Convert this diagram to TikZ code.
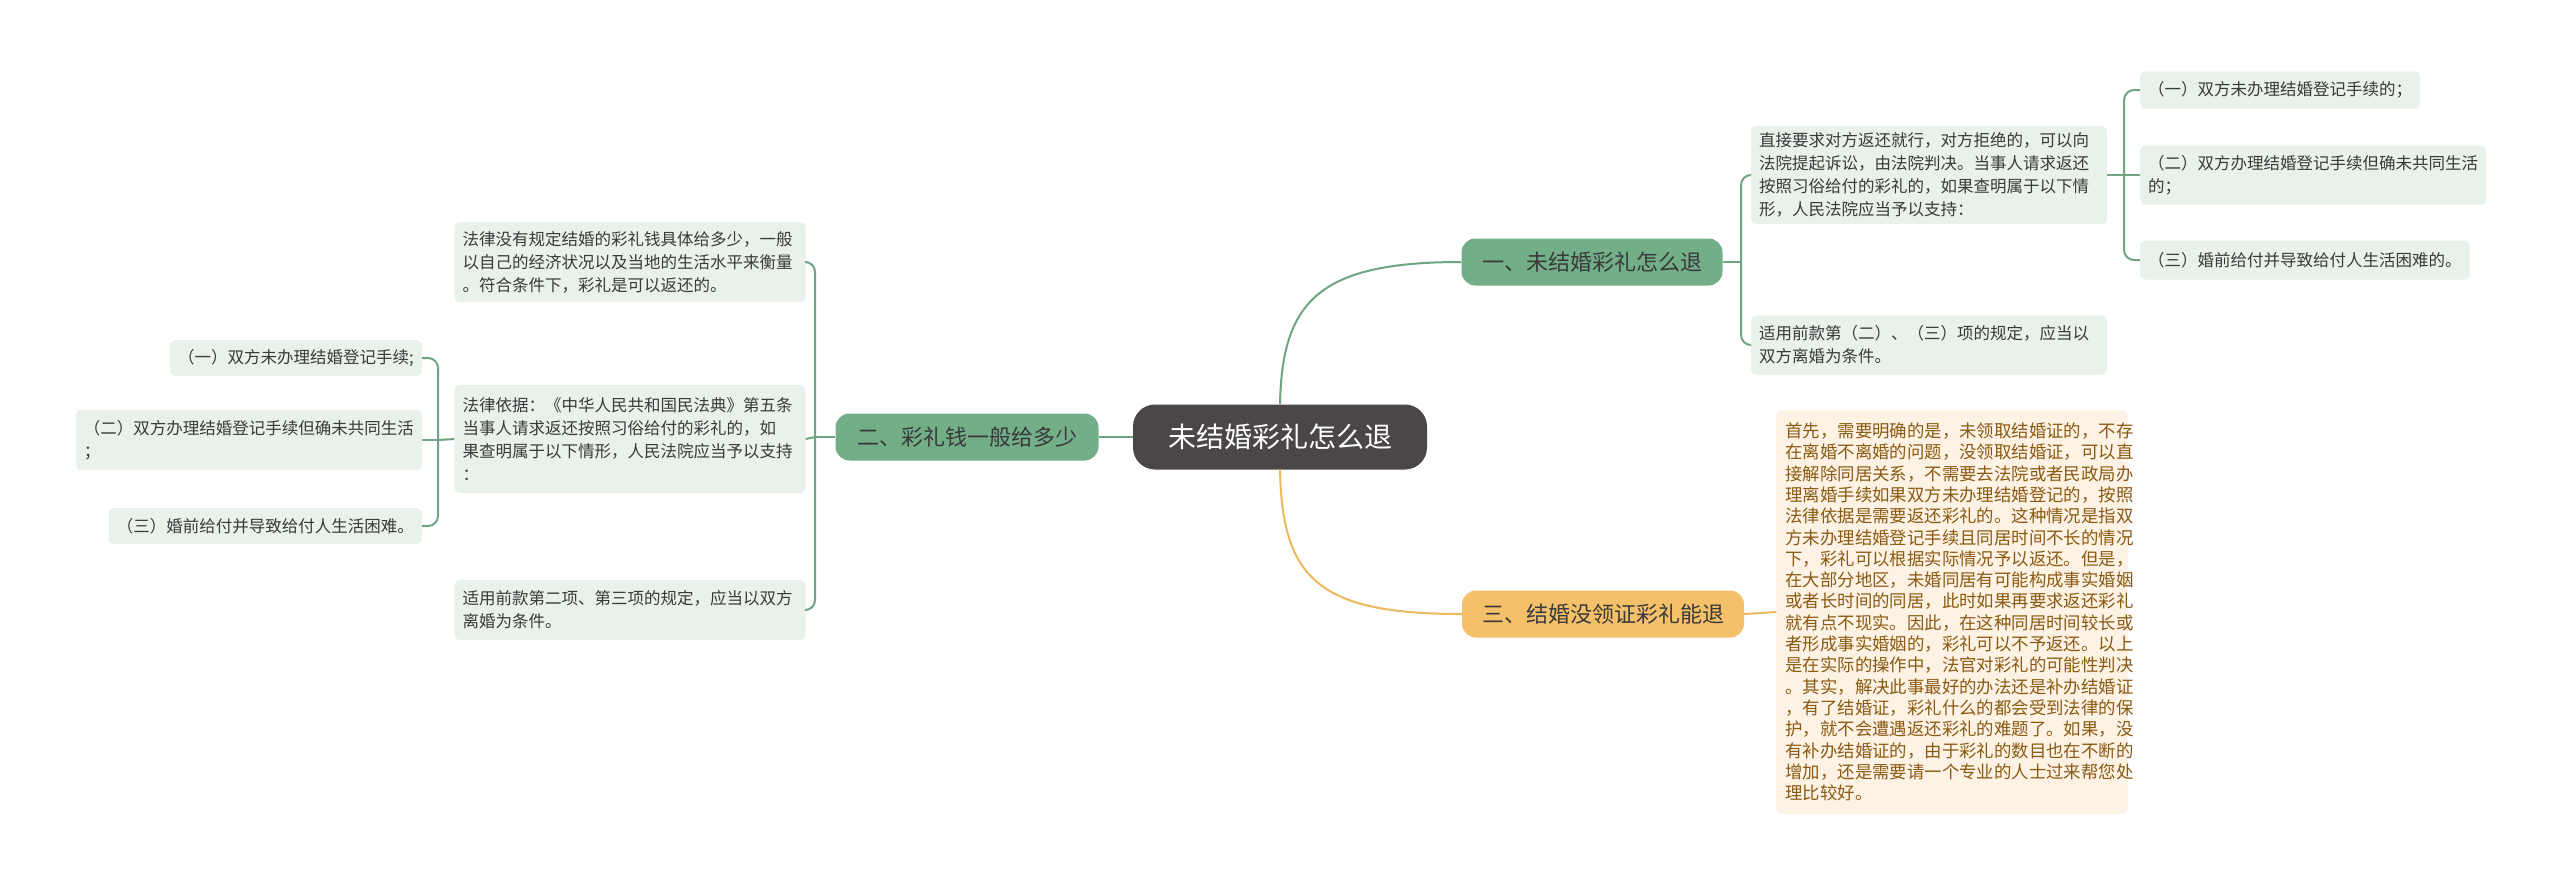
\documentclass[tikz,border=0pt]{standalone}
\usepackage{fontspec}
\setmainfont{Noto Sans CJK SC}
\definecolor{gline}{HTML}{6FA583}
\definecolor{gfill}{HTML}{72AE88}
\definecolor{dfill}{HTML}{E8F1EA}
\definecolor{tx}{HTML}{3A3A3A}
\definecolor{ofill}{HTML}{F5C06A}
\definecolor{oline}{HTML}{EDB95C}
\definecolor{obox}{HTML}{FDF2E4}
\definecolor{otx}{HTML}{8A5A12}
\definecolor{cfill}{HTML}{4B4747}
\begin{document}
\begin{tikzpicture}[x=1pt,y=-1pt,
  detail/.style={fill=dfill,rounded corners=5pt,inner xsep=8pt,inner ysep=0pt,align=left,text=tx,font=\fontsize{16.5}{23}\selectfont},
  branch/.style={fill=gfill,rounded corners=14pt,text=tx,font=\fontsize{22}{26}\selectfont,minimum height=47pt,inner xsep=10pt},
  gl/.style={draw=gline,line width=2pt,rounded corners=10pt},
  ol/.style={draw=oline,line width=2pt}]
\useasboundingbox (0,0) rectangle (2560,886);
\fill[white] (0,0) rectangle (2560,886);
% central
\node[fill=cfill,rounded corners=22pt,text=white,font=\fontsize{28}{32}\selectfont,minimum width=294pt,minimum height=65pt] (c) at (1280,437) {未结婚彩礼怎么退};
\node[branch,minimum width=261pt] (b1) at (1592,262) {一、未结婚彩礼怎么退};
\node[branch,minimum width=282pt,fill=ofill] (b3) at (1603,614) {三、结婚没领证彩礼能退};
\node[branch,minimum width=263pt] (b2) at (967,437) {二、彩礼钱一般给多少};
% right details
\node[detail,minimum width=356pt,minimum height=98pt,text width=340pt] (A) at (1929,175) {直接要求对方返还就行，对方拒绝的，可以向\\法院提起诉讼，由法院判决。当事人请求返还\\按照习俗给付的彩礼的，如果查明属于以下情\\形，人民法院应当予以支持：};
\node[detail,minimum width=356pt,minimum height=59pt,text width=340pt] (B) at (1929,345) {适用前款第（二）、（三）项的规定，应当以\\双方离婚为条件。};
\node[detail,anchor=west,minimum height=37pt] (R1) at (2140,90) {（一）双方未办理结婚登记手续的；};
\node[detail,anchor=west,minimum height=59pt] (R2) at (2140,175) {（二）双方办理结婚登记手续但确未共同生活\\的；};
\node[detail,anchor=west,minimum height=39pt] (R3) at (2140,260) {（三）婚前给付并导致给付人生活困难的。};
% orange box
\node[fill=obox,draw=obox!80!orange!40,rounded corners=5pt,text=otx,align=left,inner xsep=9pt,minimum width=351pt,minimum height=403pt,text width=333pt,font=\fontsize{17.4}{21.3}\selectfont] (O) at (1952,612) {首先，需要明确的是，未领取结婚证的，不存\\在离婚不离婚的问题，没领取结婚证，可以直\\接解除同居关系，不需要去法院或者民政局办\\理离婚手续如果双方未办理结婚登记的，按照\\法律依据是需要返还彩礼的。这种情况是指双\\方未办理结婚登记手续且同居时间不长的情况\\下，彩礼可以根据实际情况予以返还。但是，\\在大部分地区，未婚同居有可能构成事实婚姻\\或者长时间的同居，此时如果再要求返还彩礼\\就有点不现实。因此，在这种同居时间较长或\\者形成事实婚姻的，彩礼可以不予返还。以上\\是在实际的操作中，法官对彩礼的可能性判决\\。其实，解决此事最好的办法还是补办结婚证\\，有了结婚证，彩礼什么的都会受到法律的保\\护，就不会遭遇返还彩礼的难题了。如果，没\\有补办结婚证的，由于彩礼的数目也在不断的\\增加，还是需要请一个专业的人士过来帮您处\\理比较好。};
% left details
\node[detail,minimum width=351pt,minimum height=80pt,text width=335pt] (L1) at (630,262) {法律没有规定结婚的彩礼钱具体给多少，一般\\以自己的经济状况以及当地的生活水平来衡量\\。符合条件下，彩礼是可以返还的。};
\node[detail,minimum width=351pt,minimum height=108pt,text width=335pt] (L2) at (630,439) {法律依据：《中华人民共和国民法典》第五条\\ 当事人请求返还按照习俗给付的彩礼的，如\\果查明属于以下情形，人民法院应当予以支持\\：};
\node[detail,minimum width=351pt,minimum height=60pt,text width=335pt] (L3) at (630,610) {适用前款第二项、第三项的规定，应当以双方\\离婚为条件。};
\node[detail,anchor=east,minimum height=36pt] (LL1) at (422,358) {（一）双方未办理结婚登记手续;};
\node[detail,anchor=east,minimum height=60pt] (LL2) at (422,440) {（二）双方办理结婚登记手续但确未共同生活\\；};
\node[detail,anchor=east,minimum height=36pt] (LL3) at (422,526) {（三）婚前给付并导致给付人生活困难。};
% connectors
\coordinate (j1) at (1741,262);
\coordinate (j2) at (2124,175);
\coordinate (j3) at (815,437);
\coordinate (j4) at (438,440);
\draw[draw=gline,line width=2pt] (c.north) .. controls (1282,300) and (1320,262) .. (b1.west);
\draw[ol] (c.south) .. controls (1282,580) and (1320,614) .. (b3.west);
\draw[gl] (c.west) -- (b2.east);
\draw[ol] (b3.east) -- (O.west);
\draw[gl] (b1.east) -- (j1);
\draw[gl] (A.west) -| (j1) |- (B.west);
\draw[gl] (A.east) -- (j2);
\draw[gl] (R1.west) -| (j2) |- (R3.west);
\draw[gl] (j2) -- (R2.west);
\draw[gl] (b2.west) -- (j3);
\draw[gl] (L1.east) -| (j3) |- (L3.east);
\draw[gl] (j3) -- (L2.east);
\draw[gl] (L2.west) -- (j4);
\draw[gl] (LL1.east) -| (j4) |- (LL3.east);
\draw[gl] (j4) -- (LL2.east);
\end{tikzpicture}
\end{document}
